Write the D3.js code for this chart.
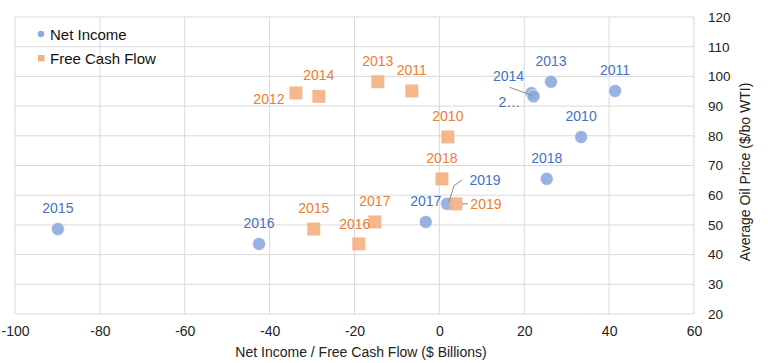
<!DOCTYPE html>
<html>
<head>
<meta charset="utf-8">
<script src="https://cdn.jsdelivr.net/npm/d3@7"></script>
<style>
  body { margin: 0; background: #fff; }
  text { font-family: "Liberation Sans", Arial, sans-serif; }
</style>
</head>
<body>
<svg id="chart" width="768" height="363"></svg>
<script>
// data
var years = [2010, 2011, 2012, 2013, 2014, 2015, 2016, 2017, 2018, 2019];
var oilPrice = [79.6, 95.1, 94.4, 98.2, 93.3, 48.6, 43.6, 51.0, 65.5, 57.1];
var netIncome = [33.4, 41.4, 21.7, 26.3, 22.2, -89.9, -42.5, -3.2, 25.3, 1.8];
var freeCashFlow = [2.0, -6.5, -33.8, -14.5, -28.4, -29.6, -19.0, -15.2, 0.6, 3.9];
var xTicks = [-100, -80, -60, -40, -20, 0, 20, 40, 60];
var yTicks = [20, 30, 40, 50, 60, 70, 80, 90, 100, 110, 120];

// label placement (pixels from the marker), keyed by year
var niLabelPos = {2012: [-22, 9], 2014: [-25, -20], 2019: [38, -24]};
var fcfLabelPos = {2012: [-27, 6], 2016: [-4, -20], 2019: [30, 0]};

var blue = "#4472c4", blueFill = "#8eaadb",
    orange = "#ed7d31", orangeFill = "#f4b183";

var margin = {top: 17, right: 74, bottom: 49, left: 15},
    width = 768, height = 363,
    innerWidth = width - margin.left - margin.right,
    innerHeight = height - margin.top - margin.bottom;

var svg = d3.select("#chart");
var g = svg.append("g")
  .attr("transform", "translate(" + margin.left + "," + margin.top + ")");

var xScale = d3.scaleLinear().domain([-100, 60]).range([0, innerWidth]);
var yScale = d3.scaleLinear().domain([20, 120]).range([innerHeight, 0]);

// gridlines
g.append("g").selectAll("line").data(xTicks).enter().append("line")
  .attr("x1", function (d) { return xScale(d); })
  .attr("x2", function (d) { return xScale(d); })
  .attr("y1", 0).attr("y2", innerHeight)
  .attr("stroke", "#d9d9d9").attr("stroke-width", 1);
g.append("g").selectAll("line").data(yTicks).enter().append("line")
  .attr("y1", function (d) { return yScale(d); })
  .attr("y2", function (d) { return yScale(d); })
  .attr("x1", 0).attr("x2", innerWidth)
  .attr("stroke", "#d9d9d9").attr("stroke-width", 1);

// axes (labels only), plain hyphen for negatives like the original
var xAxis = g.append("g")
  .attr("transform", "translate(0," + innerHeight + ")")
  .call(d3.axisBottom(xScale).tickValues(xTicks).tickSize(0).tickPadding(12)
    .tickFormat(function (d) { return String(d); }));
xAxis.select(".domain").remove();
xAxis.selectAll("text").attr("font-size", 14).attr("fill", "#222")
  .attr("font-family", "Liberation Sans, Arial, sans-serif");

var yAxis = g.append("g")
  .attr("transform", "translate(" + innerWidth + ",0)")
  .call(d3.axisRight(yScale).tickValues(yTicks).tickSize(0).tickPadding(14));
yAxis.select(".domain").remove();
yAxis.selectAll("text").attr("font-size", 13.5).attr("fill", "#222")
  .attr("font-family", "Liberation Sans, Arial, sans-serif");

// axis titles
svg.append("text")
  .attr("x", 361).attr("y", 357)
  .attr("text-anchor", "middle")
  .attr("font-size", 14).attr("fill", "#222")
  .text("Net Income / Free Cash Flow ($ Billions)");
svg.append("text")
  .attr("transform", "translate(750,172) rotate(-90)")
  .attr("text-anchor", "middle")
  .attr("font-size", 14).attr("fill", "#222")
  .text("Average Oil Price ($/bo WTI)");

var niData = years.map(function (y, i) { return {year: y, x: netIncome[i], y: oilPrice[i]}; });
var fcfData = years.map(function (y, i) { return {year: y, x: freeCashFlow[i], y: oilPrice[i]}; });

// markers
g.append("g").selectAll("circle").data(niData).enter().append("circle")
  .attr("cx", function (d) { return xScale(d.x); })
  .attr("cy", function (d) { return yScale(d.y); })
  .attr("r", 6.5)
  .attr("fill", blueFill).attr("fill-opacity", 0.9)
  .attr("stroke", "#fff").attr("stroke-width", 0.6);

g.append("g").selectAll("rect").data(fcfData).enter().append("rect")
  .attr("x", function (d) { return xScale(d.x) - 6.5; })
  .attr("y", function (d) { return yScale(d.y) - 6.5; })
  .attr("width", 13).attr("height", 13)
  .attr("fill", orangeFill).attr("fill-opacity", 0.92);

// leader lines
var ni2014 = niData[4], ni2019 = niData[9], fcf2019 = fcfData[9];
var leaders = [
  [[xScale(ni2014.x) - 24, yScale(ni2014.y) - 9], [xScale(ni2014.x) - 2, yScale(ni2014.y) - 1]],
  [[xScale(ni2019.x) + 2, yScale(ni2019.y) - 2], [xScale(ni2019.x) + 7, yScale(ni2019.y) - 18], [xScale(ni2019.x) + 15, yScale(ni2019.y) - 24]],
  [[xScale(fcf2019.x) + 6, yScale(fcf2019.y)], [xScale(fcf2019.x) + 12, yScale(fcf2019.y)]]
];
g.append("g").selectAll("path").data(leaders).enter().append("path")
  .attr("d", d3.line())
  .attr("fill", "none").attr("stroke", "#8c8c8c").attr("stroke-width", 1);

// data labels (y is the baseline, ~5px below the label's middle)
function addLabels(data, pos, color) {
  g.append("g").selectAll("text").data(data).enter().append("text")
    .attr("x", function (d) { return xScale(d.x) + (pos[d.year] ? pos[d.year][0] : 0); })
    .attr("y", function (d) { return yScale(d.y) + (pos[d.year] ? pos[d.year][1] : -21) + 5; })
    .attr("text-anchor", "middle")
    .attr("font-size", 14)
    .attr("fill", color)
    .text(function (d) { return d.year === 2012 && color === blue ? "2\u2026" : d.year; });
}
addLabels(niData, niLabelPos, blue);
addLabels(fcfData, fcfLabelPos, orange);

// legend
var legend = svg.append("g");
legend.append("circle").attr("cx", 41).attr("cy", 34).attr("r", 3.2).attr("fill", blueFill);
legend.append("text").attr("x", 50).attr("y", 39.5)
  .attr("font-size", 15).attr("fill", "#111").text("Net Income");
legend.append("rect").attr("x", 38).attr("y", 55).attr("width", 6.5).attr("height", 6.5).attr("fill", orangeFill);
legend.append("text").attr("x", 50).attr("y", 64)
  .attr("font-size", 15).attr("fill", "#111").text("Free Cash Flow");
</script>
</body>
</html>
